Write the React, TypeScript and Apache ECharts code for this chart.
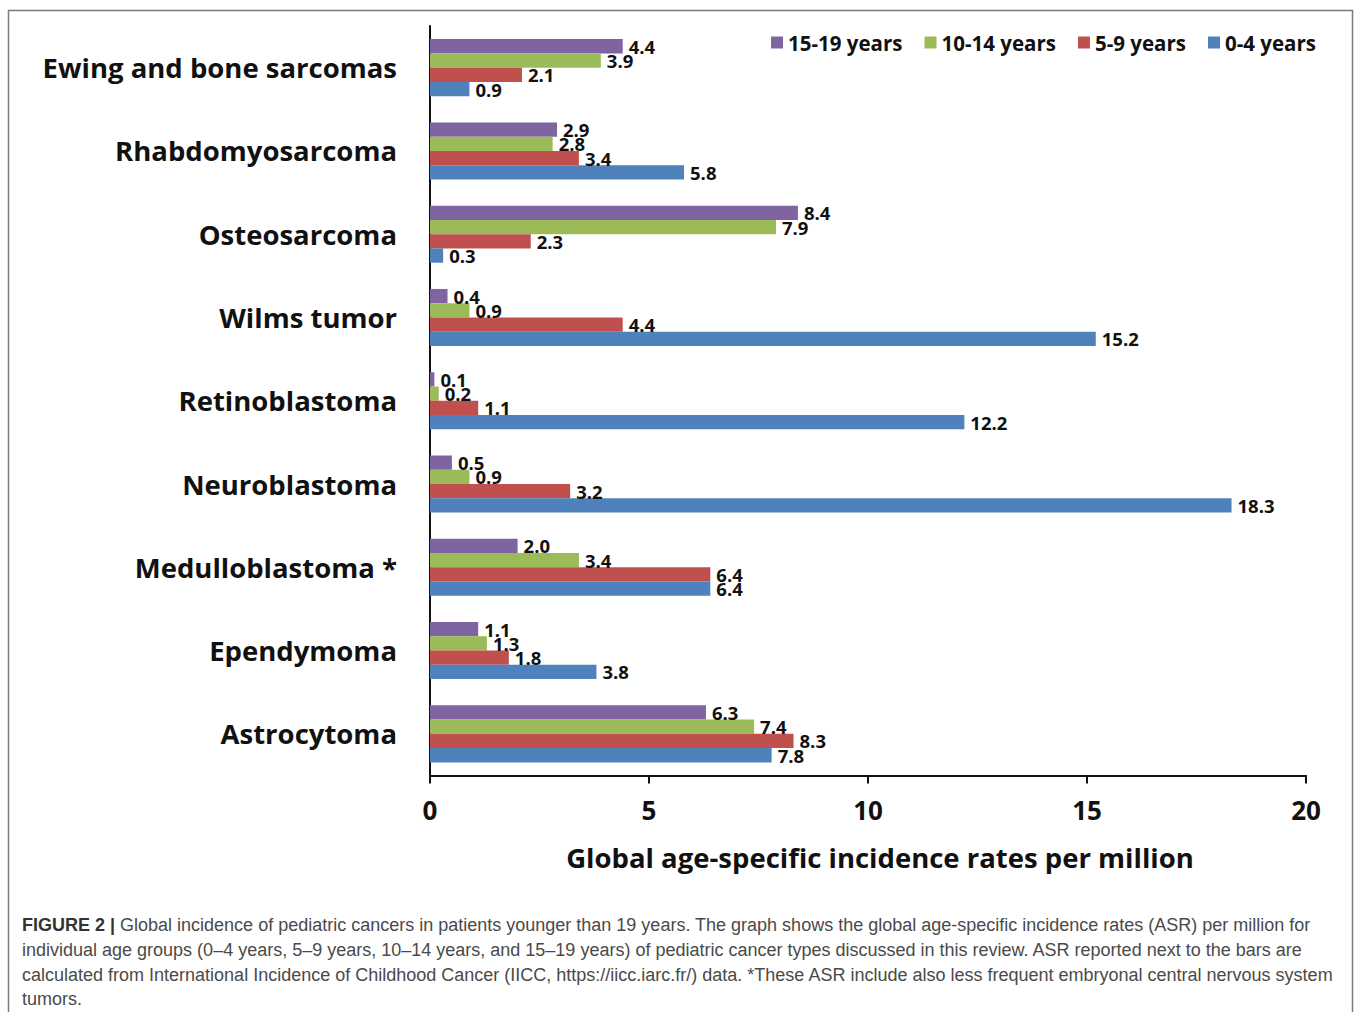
import React, { useEffect, useRef } from "react";
import * as echarts from "echarts";

const categories = [
  "Ewing and bone sarcomas",
  "Rhabdomyosarcoma",
  "Osteosarcoma",
  "Wilms tumor",
  "Retinoblastoma",
  "Neuroblastoma",
  "Medulloblastoma *",
  "Ependymoma",
  "Astrocytoma",
];
const seriesNames = ["15-19 years", "10-14 years", "5-9 years", "0-4 years"];
const age15to19 = [4.4, 2.9, 8.4, 0.4, 0.1, 0.5, 2.0, 1.1, 6.3];
const age10to14 = [3.9, 2.8, 7.9, 0.9, 0.2, 0.9, 3.4, 1.3, 7.4];
const age5to9 = [2.1, 3.4, 2.3, 4.4, 1.1, 3.2, 6.4, 1.8, 8.3];
const age0to4 = [0.9, 5.8, 0.3, 15.2, 12.2, 18.3, 6.4, 3.8, 7.8];
const xTicks = [0, 5, 10, 15, 20];
const colors = ["#8064A2", "#9BBB59", "#C0504D", "#4F81BD"];

const captionLines = [
  "Global incidence of pediatric cancers in patients younger than 19 years. The graph shows the global age-specific incidence rates (ASR) per million for",
  "individual age groups (0–4 years, 5–9 years, 10–14 years, and 15–19 years) of pediatric cancer types discussed in this review. ASR reported next to the bars are",
  "calculated from International Incidence of Childhood Cancer (IICC, https://iicc.iarc.fr/) data. *These ASR include also less frequent embryonal central nervous system",
  "tumors.",
];

export default function App() {
  const ref = useRef<HTMLDivElement>(null);
  useEffect(() => {
    document.body.style.margin = "0";
    const chart = echarts.init(ref.current!, null, { renderer: "svg" });
    const allData = [age15to19, age10to14, age5to9, age0to4];
    const font = "Open Sans";
    const capFont = "Liberation Sans";
    const graphics: any[] = [
      {
        type: "rect",
        shape: { x: 8.5, y: 10.5, width: 1344, height: 1100 },
        style: { fill: "none", stroke: "#7a7a7a", lineWidth: 1.5 },
        silent: true,
      },
    ];
    captionLines.forEach((line, i) => {
      graphics.push({
        type: "text",
        x: 22,
        y: 925 + i * 24.8,
        style: {
          text: i === 0 ? "{b|FIGURE 2 | }" + line : line,
          font: `18px "${capFont}"`,
          fill: "#4a4a4a",
          verticalAlign: "middle",
          rich: {
            b: { fontFamily: capFont, fontWeight: "bold", fontSize: 18, fill: "#333" },
          },
        },
      });
    });
    chart.setOption({
      animation: false,
      backgroundColor: "#fff",
      color: colors,
      legend: {
        data: seriesNames,
        right: 36,
        top: 27,
        itemWidth: 12,
        itemHeight: 12,
        itemGap: 22,
        icon: "rect",
        textStyle: { fontFamily: font, fontWeight: "bold", fontSize: 20.5, color: "#111" },
      },
      grid: { left: 430, right: 51, top: 26, bottom: 236.5 },
      xAxis: {
        type: "value",
        min: 0,
        max: 20,
        interval: 5,
        axisLine: { show: true, lineStyle: { color: "#111", width: 2 } },
        axisTick: { show: true, length: 8, lineStyle: { color: "#111", width: 2 } },
        splitLine: { show: false },
        axisLabel: {
          margin: 21,
          fontFamily: font,
          fontWeight: "bold",
          fontSize: 26,
          color: "#111",
          formatter: (v: number) => (xTicks.includes(v) ? String(v) : ""),
        },
        name: "Global age-specific incidence rates per million",
        nameLocation: "middle",
        nameGap: 68,
        nameTextStyle: {
          fontFamily: font,
          fontWeight: "bold",
          fontSize: 27.5,
          color: "#111",
          padding: [0, 0, 0, 24],
        },
      },
      yAxis: {
        type: "category",
        data: categories,
        inverse: true,
        axisLine: { show: true, lineStyle: { color: "#111", width: 2 } },
        axisTick: { show: false },
        axisLabel: {
          margin: 33,
          fontFamily: font,
          fontWeight: "bold",
          fontSize: 27.5,
          color: "#111",
        },
      },
      series: seriesNames.map((name, i) => ({
        name,
        type: "bar",
        data: allData[i],
        barGap: "0%",
        barCategoryGap: "31.5%",
        itemStyle: { color: colors[i] },
        label: {
          show: true,
          position: "right",
          distance: 6,
          fontFamily: font,
          fontWeight: "bold",
          fontSize: 18.5,
          color: "#111",
          formatter: (p: any) => Number(p.value).toFixed(1),
        },
      })),
      graphic: graphics,
    });
    return () => chart.dispose();
  }, []);
  return <div ref={ref} style={{ width: 1357, height: 1012 }} />;
}
